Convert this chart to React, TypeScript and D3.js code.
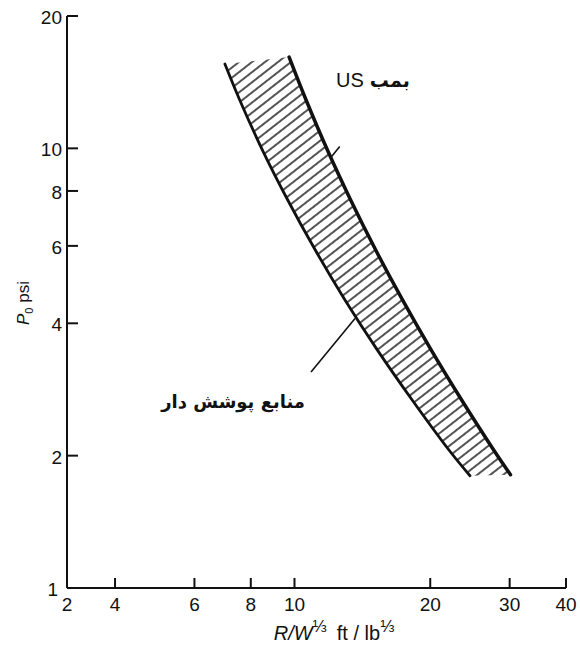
import React from 'react';
import * as d3 from 'd3';

// Axis ticks (log–log)
const xTicks = [4, 6, 8, 10, 20, 30, 40];
const xOriginLabel = '2';
const yTicks = [2, 4, 6, 8, 10, 20];
const yOriginLabel = '1';

// Upper boundary of the band: US bomb data (scaled distance, overpressure psi)
const usBombR = [9.73, 10.61, 11.83, 13.32, 15.14, 17.36, 20.09, 23.46, 27.65, 30.13];
const usBombP = [16.13, 12.88, 9.91, 7.63, 5.87, 4.52, 3.48, 2.68, 2.06, 1.81];

// Lower boundary of the band: cased sources
const casedR = [7.01, 7.56, 8.49, 9.66, 11.12, 12.94, 15.26, 18.22, 22.0, 24.5];
const casedP = [15.55, 12.88, 9.91, 7.63, 5.87, 4.52, 3.48, 2.68, 2.06, 1.8];

// Labels and leader lines, in data units
const usLabelLatin = 'US';
const usLabelPersian = 'بمب';
const usLabelAt = [12.36, 13.79];
const usLeader = [[12.0, 9.5], [12.6, 10.1]];
const casedLabel = 'منابع پوشش دار';
const casedLabelAt = [10.55, 2.57];
const casedLeader = [[10.88, 3.1], [13.62, 4.1]];

const W = 580;
const H = 650;
const x = d3.scaleLog().domain([3.13, 40]).range([67, 566]);
const y = d3.scaleLog().domain([1, 20]).range([588, 16]);

const latinFont = '"Liberation Sans", Arial, sans-serif';
const persianFont = '"DejaVu Sans", sans-serif';

export default function App() {
  const upper = usBombR.map((r, i) => [x(r), y(usBombP[i])] as [number, number]);
  const lower = casedR.map((r, i) => [x(r), y(casedP[i])] as [number, number]);
  const line = d3.line().curve(d3.curveCatmullRom.alpha(0.5));

  const upperPath = line(upper) as string;
  const lowerPath = line(lower) as string;
  const upperRev = line(upper.slice().reverse()) as string;
  const bandPath = `${lowerPath}L${upperRev.slice(1)}Z`;

  const [x0, x1] = x.range();
  const [y0, y1] = y.range();

  return (
    <svg width={W} height={H} style={{ position: 'absolute', left: 0, top: 0, background: '#fff' }}>
      <defs>
        <pattern id="hatch" patternUnits="userSpaceOnUse" width={40} height={8} patternTransform="rotate(-38)">
          <line x1={0} y1={4} x2={40} y2={4} stroke="#1a1a1a" strokeWidth={1.4} />
        </pattern>
      </defs>

      {/* hatched band between the two boundaries */}
      <path d={bandPath} fill="url(#hatch)" stroke="none" />

      {/* boundaries */}
      <path d={lowerPath} fill="none" stroke="#111" strokeWidth={2.8} strokeLinecap="round" />
      <path d={upperPath} fill="none" stroke="#111" strokeWidth={3.5} strokeLinecap="round" />

      {/* axes */}
      <line x1={x0} y1={y0} x2={x1} y2={y0} stroke="#111" strokeWidth={2} />
      <line x1={x0} y1={y0} x2={x0} y2={y1} stroke="#111" strokeWidth={2} />
      {xTicks.map((t) => (
        <g key={`xt${t}`}>
          <line x1={x(t)} x2={x(t)} y1={y0} y2={y0 - 10} stroke="#111" strokeWidth={2} />
          <text x={x(t)} y={y0 + 23} textAnchor="middle" fontFamily={latinFont} fontSize={19} fill="#111">
            {t}
          </text>
        </g>
      ))}
      <text x={x0} y={y0 + 23} textAnchor="middle" fontFamily={latinFont} fontSize={19} fill="#111">
        {xOriginLabel}
      </text>
      {yTicks.map((t) => (
        <g key={`yt${t}`}>
          <line x1={x0} x2={x0 + 11} y1={y(t)} y2={y(t)} stroke="#111" strokeWidth={2} />
          <text x={x0 - 5} y={y(t) + 8} textAnchor="end" fontFamily={latinFont} fontSize={19} fill="#111">
            {t}
          </text>
        </g>
      ))}
      <text x={x0 - 9} y={y0 + 8} textAnchor="end" fontFamily={latinFont} fontSize={19} fill="#111">
        {yOriginLabel}
      </text>

      {/* axis titles */}
      <text x={334} y={640} textAnchor="middle" fontFamily={latinFont} fontSize={20} fill="#111">
        <tspan fontStyle="italic">R/W</tspan>
        <tspan fontSize={17} dy={-8}>⅓</tspan>
        <tspan dy={8} dx={10}>ft / lb</tspan>
        <tspan fontSize={17} dy={-8}>⅓</tspan>
      </text>
      <text transform="translate(29,303) rotate(-90)" textAnchor="middle" fontFamily={latinFont} fontSize={17} fill="#111">
        <tspan fontStyle="italic">P</tspan>
        <tspan fontSize={11} dy={4}>0</tspan>
        <tspan dy={-4}> psi</tspan>
      </text>

      {/* annotations */}
      <line
        x1={x(usLeader[0][0])} y1={y(usLeader[0][1])}
        x2={x(usLeader[1][0])} y2={y(usLeader[1][1])}
        stroke="#111" strokeWidth={1.6}
      />
      <text x={x(usLabelAt[0])} y={y(usLabelAt[1])} fontFamily={latinFont} fontSize={20} fill="#111">
        <tspan>{usLabelLatin}</tspan>
        <tspan dx={6} fontFamily={persianFont} fontWeight="bold" fontSize={19}>{usLabelPersian}</tspan>
      </text>
      <line
        x1={x(casedLeader[0][0])} y1={y(casedLeader[0][1])}
        x2={x(casedLeader[1][0])} y2={y(casedLeader[1][1])}
        stroke="#111" strokeWidth={1.6}
      />
      <text
        x={x(casedLabelAt[0])} y={y(casedLabelAt[1])} textAnchor="end"
        fontFamily={persianFont} fontWeight="bold" fontSize={18} fill="#111"
      >
        {casedLabel}
      </text>
    </svg>
  );
}
